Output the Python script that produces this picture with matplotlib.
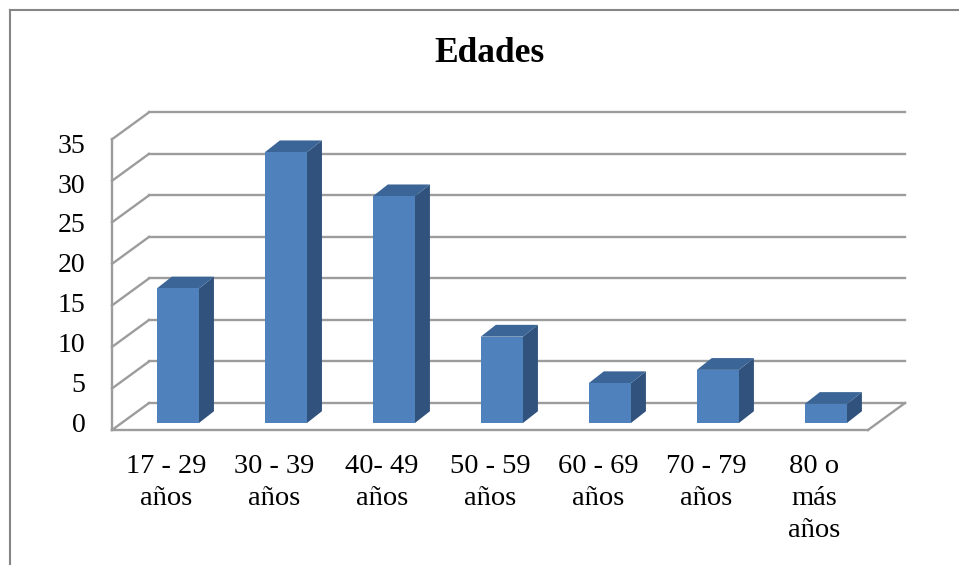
import matplotlib.pyplot as plt
from matplotlib.patches import Polygon
from matplotlib.lines import Line2D
import numpy as np

plt.rcParams['font.family'] = ['Liberation Serif', 'DejaVu Serif']

grupos = ['17 - 29\naños', '30 - 39\naños', '40- 49\naños', '50 - 59\naños',
          '60 - 69\naños', '70 - 79\naños', '80 o\nmás\naños']
porcentajes = [16.2, 32.6, 27.3, 10.4, 4.8, 6.4, 2.3]
marcas_y = [0, 5, 10, 15, 20, 25, 30, 35]
titulo = 'Edades'

W, H = 959, 565
fig = plt.figure(figsize=(W / 100, H / 100), dpi=100)

# falsa perspectiva: desplazamiento del plano frontal a la pared del fondo
prof_x, prof_y = 0.343, 3.25
# posicion y grosor de las columnas dentro de la profundidad
barra_dx, barra_dy = 0.11, 0.84
caja_dx, caja_dy = 0.139, 1.42
ancho = 0.39

c_frente = '#4f81bd'
c_lado = '#30527c'
c_tapa = '#3b6596'
c_rejilla = '#9c9c9c'

ax = fig.add_axes([112 / W, (H - 430) / H, 793 / W, (430 - 112.3) / H])
ax.set_xlim(-0.5, 6.5 + prof_x)
ax.set_ylim(0, 35 + prof_y)
ax.patch.set_visible(False)
for s in ax.spines.values():
    s.set_visible(False)

# pared del fondo y lineas de profundidad
for v in marcas_y:
    ax.plot([-0.5 + prof_x, 6.5 + prof_x], [v + prof_y] * 2, color=c_rejilla,
            lw=1.7, zorder=1, clip_on=False)
    ax.plot([-0.5, -0.5 + prof_x], [v, v + prof_y], color=c_rejilla,
            lw=1.7, zorder=1, clip_on=False)
ax.plot([-0.5, -0.5], [0, 35], color=c_rejilla, lw=1.7, zorder=1, clip_on=False)
# suelo
ax.plot([-0.5, 6.5], [0, 0], color=c_rejilla, lw=1.7, zorder=1, clip_on=False)
ax.plot([6.5, 6.5 + prof_x], [0, prof_y], color=c_rejilla, lw=1.7, zorder=1,
        clip_on=False)

# columnas 3D: cara frontal + lateral + tapa
x = np.arange(len(porcentajes)) + barra_dx
ax.bar(x, porcentajes, width=ancho, bottom=barra_dy, color=c_frente,
       zorder=3, clip_on=False)
for xi, v in zip(x, porcentajes):
    x0, x1 = xi - ancho / 2, xi + ancho / 2
    y0, y1 = barra_dy, barra_dy + v
    lado = [(x1, y0), (x1, y1), (x1 + caja_dx, y1 + caja_dy), (x1 + caja_dx, y0 + caja_dy)]
    tapa = [(x0, y1), (x1, y1), (x1 + caja_dx, y1 + caja_dy), (x0 + caja_dx, y1 + caja_dy)]
    ax.add_patch(Polygon(lado, closed=True, color=c_lado, lw=0, zorder=2, clip_on=False))
    ax.add_patch(Polygon(tapa, closed=True, color=c_tapa, lw=0, zorder=2, clip_on=False))

ax.set_xticks(np.arange(len(grupos)), labels=grupos, fontsize=20.5,
              linespacing=1.38)
ax.set_yticks([0.96 + v * 0.959 for v in marcas_y],
              labels=[str(v) for v in marcas_y], fontsize=20)
ax.tick_params(axis='x', length=0, pad=17)
ax.tick_params(axis='y', length=0, pad=19)

fig.text(489 / W, 1 - 62.3 / H, titulo, ha='center', va='baseline',
         fontsize=25.5, fontweight='bold')

# marco del area del grafico
fig.add_artist(Line2D([9.5 / W, 1], [1 - 9.5 / H] * 2, color='#868686', lw=1.5))
fig.add_artist(Line2D([9.5 / W] * 2, [0, 1 - 9.5 / H], color='#868686', lw=1.5))

fig.savefig('out.png', dpi=100, facecolor='white')
